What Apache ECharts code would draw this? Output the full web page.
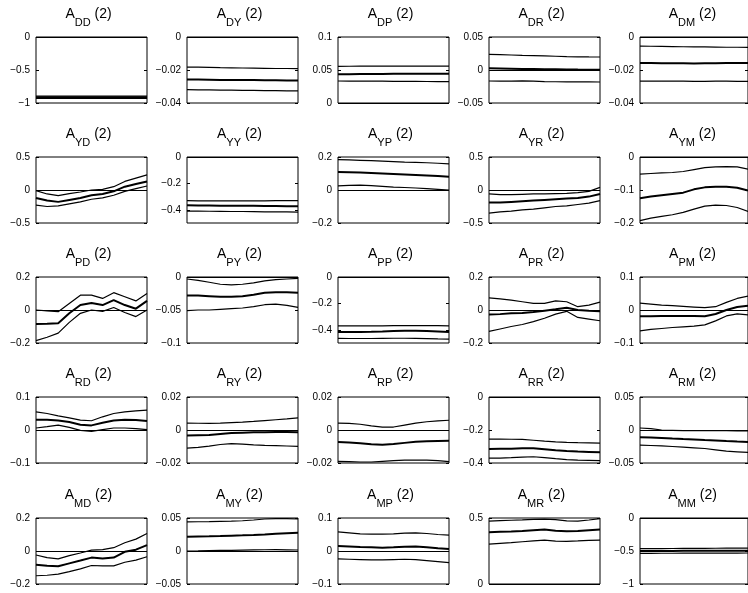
<!DOCTYPE html>
<html><head><meta charset="utf-8">
<script src="https://cdn.jsdelivr.net/npm/echarts@6/dist/echarts.min.js"></script>
<style>html,body{margin:0;padding:0;background:#fff}#c{width:748px;height:593px}</style>
</head><body><div id="c"></div>
<script>
// x positions (horizon index)
const xs = [0,1,2,3,4,5,6,7,8,9,10];

// Row D
const DD_hi = [-0.895,-0.895,-0.895,-0.896,-0.896,-0.896,-0.896,-0.897,-0.897,-0.897,-0.897];
const DD_md = [-0.912,-0.912,-0.912,-0.913,-0.913,-0.913,-0.913,-0.913,-0.914,-0.914,-0.914];
const DD_lo = [-0.930,-0.930,-0.930,-0.931,-0.931,-0.931,-0.931,-0.932,-0.932,-0.932,-0.932];
const DD_ax = [-1, 0]; const DD_ticks = [-1, -0.5, 0];

const DY_hi = [-0.0182,-0.0183,-0.0184,-0.0186,-0.0187,-0.0188,-0.0189,-0.019,-0.0191,-0.0191,-0.0192];
const DY_md = [-0.0257,-0.0258,-0.0259,-0.026,-0.026,-0.0261,-0.0261,-0.0262,-0.0262,-0.0263,-0.0263];
const DY_lo = [-0.0319,-0.032,-0.0321,-0.0322,-0.0322,-0.0323,-0.0324,-0.0325,-0.0325,-0.0326,-0.0327];
const DY_ax = [-0.04, 0]; const DY_ticks = [-0.04, -0.02, 0];

const DP_hi = [0.0556,0.0557,0.0558,0.0558,0.0559,0.056,0.056,0.056,0.056,0.056,0.056];
const DP_md = [0.0434,0.0436,0.0438,0.044,0.0441,0.0442,0.0443,0.0443,0.0444,0.0444,0.0444];
const DP_lo = [0.0333,0.0332,0.0331,0.033,0.033,0.0329,0.0328,0.0327,0.0326,0.0325,0.0323];
const DP_ax = [0, 0.1]; const DP_ticks = [0, 0.05, 0.1];

const DR_hi = [0.0237,0.0232,0.0227,0.0222,0.0218,0.0213,0.0208,0.0203,0.02,0.0198,0.0197];
const DR_md = [0.0025,0.0022,0.0019,0.0016,0.0014,0.0012,0.001,0.0008,0.0006,0.0005,0.0005];
const DR_lo = [-0.0167,-0.017,-0.0168,-0.0165,-0.017,-0.0175,-0.0178,-0.018,-0.018,-0.0181,-0.0182];
const DR_ax = [-0.05, 0.05]; const DR_ticks = [-0.05, 0, 0.05];

const DM_hi = [-0.0055,-0.0056,-0.0057,-0.0058,-0.0059,-0.006,-0.006,-0.0061,-0.0062,-0.0062,-0.0063];
const DM_md = [-0.0158,-0.0158,-0.0159,-0.0159,-0.0159,-0.016,-0.0159,-0.0159,-0.0158,-0.0158,-0.0158];
const DM_lo = [-0.0267,-0.0267,-0.0268,-0.0268,-0.0268,-0.0269,-0.0269,-0.0268,-0.0268,-0.0269,-0.0269];
const DM_ax = [-0.04, 0]; const DM_ticks = [-0.04, -0.02, 0];

// Row Y
const YD_hi = [-0.01,-0.06,-0.085,-0.055,-0.03,0.0,0.01,0.05,0.13,0.18,0.23];
const YD_md = [-0.12,-0.16,-0.18,-0.15,-0.12,-0.08,-0.06,-0.02,0.05,0.09,0.13];
const YD_lo = [-0.23,-0.25,-0.24,-0.21,-0.18,-0.14,-0.12,-0.08,-0.02,0.02,0.06];
const YD_ax = [-0.5, 0.5]; const YD_ticks = [-0.5, 0, 0.5];

const YY_hi = [-0.331,-0.332,-0.332,-0.333,-0.333,-0.333,-0.332,-0.332,-0.331,-0.331,-0.331];
const YY_md = [-0.366,-0.367,-0.368,-0.369,-0.369,-0.369,-0.37,-0.371,-0.372,-0.373,-0.374];
const YY_lo = [-0.41,-0.41,-0.411,-0.412,-0.413,-0.413,-0.414,-0.415,-0.416,-0.416,-0.417];
const YY_ax = [-0.5, 0]; const YY_ticks = [-0.4, -0.2, 0];

const YP_hi = [0.184,0.182,0.18,0.178,0.175,0.172,0.169,0.167,0.165,0.162,0.158];
const YP_md = [0.109,0.108,0.106,0.103,0.1,0.097,0.094,0.091,0.088,0.085,0.081];
const YP_lo = [0.025,0.028,0.029,0.026,0.022,0.018,0.015,0.012,0.008,0.004,0.0];
const YP_ax = [-0.2, 0.2]; const YP_ticks = [-0.2, 0, 0.2];

const YR_hi = [-0.06,-0.07,-0.07,-0.065,-0.06,-0.06,-0.055,-0.05,-0.04,-0.02,0.04];
const YR_md = [-0.19,-0.19,-0.18,-0.17,-0.16,-0.15,-0.14,-0.13,-0.12,-0.1,-0.06];
const YR_lo = [-0.35,-0.33,-0.32,-0.3,-0.29,-0.27,-0.25,-0.24,-0.22,-0.2,-0.16];
const YR_ax = [-0.5, 0.5]; const YR_ticks = [-0.5, 0, 0.5];

const YM_hi = [-0.052,-0.05,-0.048,-0.047,-0.044,-0.038,-0.032,-0.03,-0.029,-0.03,-0.037];
const YM_md = [-0.125,-0.12,-0.116,-0.112,-0.108,-0.098,-0.092,-0.09,-0.09,-0.093,-0.102];
const YM_lo = [-0.193,-0.185,-0.18,-0.175,-0.168,-0.158,-0.149,-0.146,-0.147,-0.153,-0.165];
const YM_ax = [-0.2, 0]; const YM_ticks = [-0.2, -0.1, 0];

// Row P
const PD_hi = [0.0,-0.005,-0.01,0.04,0.09,0.09,0.07,0.105,0.08,0.055,0.1];
const PD_md = [-0.085,-0.083,-0.08,-0.02,0.03,0.042,0.03,0.06,0.03,0.008,0.055];
const PD_lo = [-0.186,-0.165,-0.14,-0.075,-0.02,0.0,-0.008,0.015,-0.015,-0.04,0.0];
const PD_ax = [-0.2, 0.2]; const PD_ticks = [-0.2, 0, 0.2];

const PY_hi = [-0.003,-0.005,-0.008,-0.011,-0.012,-0.011,-0.009,-0.006,-0.004,-0.003,-0.002];
const PY_md = [-0.028,-0.028,-0.029,-0.03,-0.03,-0.029,-0.027,-0.024,-0.023,-0.023,-0.024];
const PY_lo = [-0.051,-0.05,-0.05,-0.049,-0.048,-0.047,-0.045,-0.042,-0.041,-0.043,-0.046];
const PY_ax = [-0.1, 0]; const PY_ticks = [-0.1, -0.05, 0];

const PP_hi = [-0.37,-0.37,-0.371,-0.371,-0.37,-0.369,-0.368,-0.368,-0.368,-0.369,-0.37];
const PP_md = [-0.417,-0.417,-0.416,-0.415,-0.413,-0.41,-0.408,-0.407,-0.409,-0.413,-0.417];
const PP_lo = [-0.465,-0.466,-0.466,-0.466,-0.465,-0.464,-0.464,-0.465,-0.467,-0.469,-0.47];
const PP_ax = [-0.5, 0]; const PP_ticks = [-0.4, -0.2, 0];

const PR_hi = [0.073,0.068,0.06,0.05,0.04,0.04,0.055,0.05,0.02,0.03,0.048];
const PR_md = [-0.028,-0.025,-0.02,-0.018,-0.012,-0.004,0.004,0.014,0.0,-0.005,-0.008];
const PR_lo = [-0.13,-0.115,-0.1,-0.088,-0.07,-0.05,-0.025,-0.008,-0.045,-0.055,-0.065];
const PR_ax = [-0.2, 0.2]; const PR_ticks = [-0.2, 0, 0.2];

const PM_hi = [0.021,0.018,0.015,0.013,0.011,0.009,0.007,0.01,0.023,0.035,0.042];
const PM_md = [-0.019,-0.019,-0.018,-0.018,-0.018,-0.018,-0.019,-0.012,0.0,0.009,0.013];
const PM_lo = [-0.063,-0.059,-0.056,-0.053,-0.051,-0.049,-0.045,-0.033,-0.018,-0.012,-0.015];
const PM_ax = [-0.1, 0.1]; const PM_ticks = [-0.1, 0, 0.1];

// Row R
const RD_hi = [0.055,0.05,0.043,0.037,0.03,0.028,0.04,0.05,0.055,0.058,0.06];
const RD_md = [0.031,0.031,0.029,0.024,0.016,0.014,0.022,0.029,0.031,0.03,0.027];
const RD_lo = [0.006,0.01,0.015,0.008,-0.001,-0.004,0.001,0.006,0.006,0.004,0.001];
const RD_ax = [-0.1, 0.1]; const RD_ticks = [-0.1, 0, 0.1];

const RY_hi = [0.0042,0.0041,0.004,0.0042,0.0045,0.0048,0.0052,0.0057,0.0062,0.0067,0.0073];
const RY_md = [-0.0034,-0.0032,-0.003,-0.0024,-0.0018,-0.0016,-0.0014,-0.0013,-0.0012,-0.0012,-0.0013];
const RY_lo = [-0.011,-0.0105,-0.0098,-0.0088,-0.0083,-0.0086,-0.009,-0.0093,-0.0095,-0.0097,-0.0099];
const RY_ax = [-0.02, 0.02]; const RY_ticks = [-0.02, 0, 0.02];

const RP_hi = [0.0042,0.004,0.0035,0.0025,0.0017,0.0018,0.003,0.0042,0.005,0.0055,0.0059];
const RP_md = [-0.0073,-0.0076,-0.008,-0.0086,-0.0089,-0.0085,-0.0078,-0.0071,-0.0068,-0.0066,-0.0065];
const RP_lo = [-0.019,-0.0192,-0.0194,-0.0194,-0.019,-0.0186,-0.0183,-0.0182,-0.0183,-0.0186,-0.0192];
const RP_ax = [-0.02, 0.02]; const RP_ticks = [-0.02, 0, 0.02];

const RR_hi = [-0.255,-0.255,-0.256,-0.257,-0.262,-0.268,-0.272,-0.275,-0.277,-0.278,-0.279];
const RR_md = [-0.315,-0.314,-0.313,-0.311,-0.31,-0.316,-0.323,-0.328,-0.331,-0.333,-0.335];
const RR_lo = [-0.37,-0.37,-0.368,-0.364,-0.362,-0.368,-0.374,-0.379,-0.382,-0.384,-0.386];
const RR_ax = [-0.4, 0]; const RR_ticks = [-0.4, -0.2, 0];

const RM_hi = [0.003,0.002,0.0,-0.0005,-0.001,-0.001,-0.001,-0.001,-0.001,-0.0012,-0.0015];
const RM_md = [-0.011,-0.0115,-0.012,-0.013,-0.0138,-0.0145,-0.0153,-0.016,-0.0168,-0.0175,-0.018];
const RM_lo = [-0.023,-0.0235,-0.024,-0.025,-0.026,-0.027,-0.028,-0.03,-0.032,-0.033,-0.034];
const RM_ax = [-0.05, 0.05]; const RM_ticks = [-0.05, 0, 0.05];

// Row M
const MD_hi = [-0.024,-0.04,-0.048,-0.028,-0.012,0.005,0.008,0.02,0.05,0.072,0.106];
const MD_md = [-0.084,-0.09,-0.092,-0.075,-0.058,-0.04,-0.045,-0.04,-0.005,0.008,0.036];
const MD_lo = [-0.15,-0.147,-0.14,-0.125,-0.108,-0.088,-0.09,-0.09,-0.068,-0.055,-0.035];
const MD_ax = [-0.2, 0.2]; const MD_ticks = [-0.2, 0, 0.2];

const MY_hi = [0.044,0.0443,0.0446,0.045,0.0453,0.0458,0.047,0.0485,0.049,0.049,0.0485];
const MY_md = [0.0215,0.022,0.0223,0.0227,0.0232,0.0237,0.0243,0.025,0.026,0.027,0.0275];
const MY_lo = [0.0,0.0002,0.0005,0.0008,0.001,0.0013,0.0016,0.0019,0.002,0.0018,0.0015];
const MY_ax = [-0.05, 0.05]; const MY_ticks = [-0.05, 0, 0.05];

const MP_hi = [0.058,0.055,0.052,0.051,0.051,0.052,0.054,0.055,0.053,0.05,0.048];
const MP_md = [0.015,0.014,0.012,0.011,0.01,0.011,0.013,0.014,0.011,0.008,0.006];
const MP_lo = [-0.024,-0.025,-0.026,-0.027,-0.027,-0.026,-0.025,-0.026,-0.029,-0.032,-0.035];
const MP_ax = [-0.1, 0.1]; const MP_ticks = [-0.1, 0, 0.1];

const MR_hi = [0.477,0.48,0.483,0.486,0.49,0.492,0.487,0.478,0.476,0.485,0.495];
const MR_md = [0.392,0.395,0.398,0.402,0.407,0.412,0.404,0.4,0.402,0.407,0.412];
const MR_lo = [0.302,0.308,0.313,0.32,0.327,0.332,0.325,0.323,0.326,0.33,0.332];
const MR_ax = [0, 0.5]; const MR_ticks = [0, 0.5];

const MM_hi = [-0.465,-0.464,-0.463,-0.462,-0.461,-0.46,-0.459,-0.458,-0.457,-0.456,-0.455];
const MM_md = [-0.5,-0.5,-0.499,-0.499,-0.498,-0.498,-0.497,-0.497,-0.496,-0.496,-0.495];
const MM_lo = [-0.535,-0.535,-0.534,-0.534,-0.533,-0.533,-0.532,-0.532,-0.531,-0.531,-0.53];
const MM_ax = [-1, 0]; const MM_ticks = [-1, -0.5, 0];

const panels = [
  ['DD',DD_hi,DD_md,DD_lo,DD_ax,DD_ticks],['DY',DY_hi,DY_md,DY_lo,DY_ax,DY_ticks],['DP',DP_hi,DP_md,DP_lo,DP_ax,DP_ticks],['DR',DR_hi,DR_md,DR_lo,DR_ax,DR_ticks],['DM',DM_hi,DM_md,DM_lo,DM_ax,DM_ticks],
  ['YD',YD_hi,YD_md,YD_lo,YD_ax,YD_ticks],['YY',YY_hi,YY_md,YY_lo,YY_ax,YY_ticks],['YP',YP_hi,YP_md,YP_lo,YP_ax,YP_ticks],['YR',YR_hi,YR_md,YR_lo,YR_ax,YR_ticks],['YM',YM_hi,YM_md,YM_lo,YM_ax,YM_ticks],
  ['PD',PD_hi,PD_md,PD_lo,PD_ax,PD_ticks],['PY',PY_hi,PY_md,PY_lo,PY_ax,PY_ticks],['PP',PP_hi,PP_md,PP_lo,PP_ax,PP_ticks],['PR',PR_hi,PR_md,PR_lo,PR_ax,PR_ticks],['PM',PM_hi,PM_md,PM_lo,PM_ax,PM_ticks],
  ['RD',RD_hi,RD_md,RD_lo,RD_ax,RD_ticks],['RY',RY_hi,RY_md,RY_lo,RY_ax,RY_ticks],['RP',RP_hi,RP_md,RP_lo,RP_ax,RP_ticks],['RR',RR_hi,RR_md,RR_lo,RR_ax,RR_ticks],['RM',RM_hi,RM_md,RM_lo,RM_ax,RM_ticks],
  ['MD',MD_hi,MD_md,MD_lo,MD_ax,MD_ticks],['MY',MY_hi,MY_md,MY_lo,MY_ax,MY_ticks],['MP',MP_hi,MP_md,MP_lo,MP_ax,MP_ticks],['MR',MR_hi,MR_md,MR_lo,MR_ax,MR_ticks],['MM',MM_hi,MM_md,MM_lo,MM_ax,MM_ticks]
];

const colLeft = [36, 187, 338, 489, 640];
const rowTop = [37, 157, 277, 397, 518];
const W = 111, H = 66;
const FONT = '"Liberation Sans", Arial, Helvetica, sans-serif';

const fmt = v => String(Math.round(v * 10000) / 10000).replace('-', '\u2212');

const grid = [], xAxis = [], yAxis = [], series = [], graphic = [];
panels.forEach((p, i) => {
  const [name, hi, md, lo, ax, ticks] = p;
  const r = Math.floor(i / 5), c = i % 5;
  const left = colLeft[c], top = rowTop[r];
  grid.push({left, top, width: W, height: H, show: true, borderColor: '#000', borderWidth: 1, backgroundColor: 'transparent', containLabel: false});
  xAxis.push({type: 'value', gridIndex: i, min: 0, max: xs[xs.length - 1], show: true,
    axisLine: {show: false}, axisTick: {show: false}, axisLabel: {show: false}, splitLine: {show: false}});
  const ya = {type: 'value', gridIndex: i, min: ax[0], max: ax[1],
    axisLine: {show: false}, splitLine: {show: false}};
  yAxis.push(Object.assign({}, ya, {position: 'left',
    axisTick: {show: true, inside: true, length: 3, customValues: ticks, lineStyle: {color: '#000'}},
    axisLabel: {show: true, customValues: ticks, formatter: fmt, color: '#000', fontSize: 10, fontFamily: FONT, margin: 6}}));
  yAxis.push(Object.assign({}, ya, {position: 'right',
    axisTick: {show: true, inside: true, length: 3, customValues: ticks, lineStyle: {color: '#000'}},
    axisLabel: {show: false}}));
  const yi = 2 * i;
  const mk = (arr, w, extra) => Object.assign({
    type: 'line', xAxisIndex: i, yAxisIndex: yi, data: arr.map((v, k) => [xs[k], v]),
    showSymbol: false, symbol: 'none', silent: true, animation: false,
    lineStyle: {color: '#000', width: w}, z: 3
  }, extra || {});
  series.push(mk(hi, 1.2));
  series.push(mk(lo, 1.2));
  series.push(mk(md, 2, {markLine: {silent: true, symbol: ['none', 'none'], animation: false, label: {show: false},
    lineStyle: {color: '#000', width: 1, type: 'solid'}, data: [{yAxis: 0}]}}));
  graphic.push({type: 'text', x: left + W / 2 - 3, y: top - 30,
    style: {text: '{a|A}{s|' + name + '}{a| (2)}', align: 'center', verticalAlign: 'top',
      rich: {a: {fontSize: 14, fontFamily: FONT, fill: '#000', padding: [0, 0, 6, 0]},
             s: {fontSize: 11, fontFamily: FONT, fill: '#000', padding: [10, 0, 0, 0]}}}});
});

const chart = echarts.init(document.getElementById('c'), null, {renderer: 'canvas'});
chart.setOption({backgroundColor: '#fff', animation: false, grid, xAxis, yAxis, series, graphic});
</script></body></html>
